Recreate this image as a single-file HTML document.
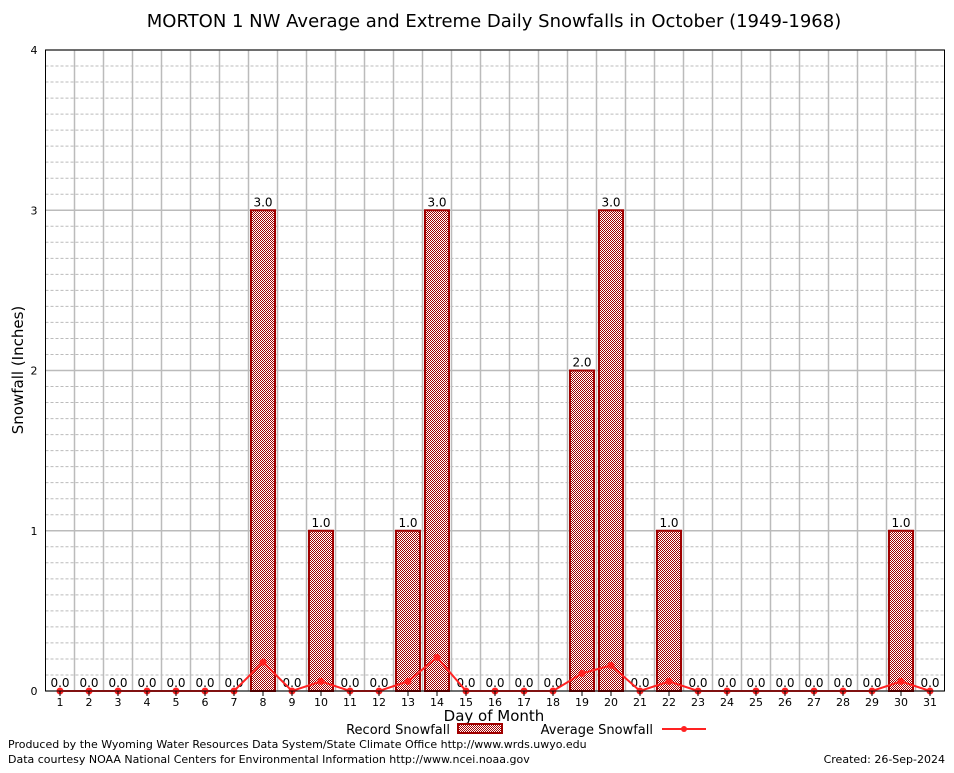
<!DOCTYPE html>
<html><head><meta charset="utf-8"><style>
body{margin:0;background:#fff}
svg text{font-family:"DejaVu Sans","Liberation Sans",sans-serif}
</style></head><body>
<svg id="c" width="954" height="768" xmlns="http://www.w3.org/2000/svg">
<defs><pattern id="chk" width="2" height="2" patternUnits="userSpaceOnUse"><rect width="2" height="2" fill="#fff"/><rect width="1" height="1" fill="#a00000"/><rect x="1" y="1" width="1" height="1" fill="#a00000"/></pattern></defs>
<rect width="954" height="768" fill="#fff"/>
<text x="494" y="27" font-size="18" text-anchor="middle">MORTON 1 NW Average and Extreme Daily Snowfalls in October (1949-1968)</text>
<g id="grid"></g><g id="bars"></g><g id="line"></g><g id="axes"></g>
<text transform="translate(23,370) rotate(-90)" font-size="15" text-anchor="middle">Snowfall (Inches)</text>
<text x="494" y="721" font-size="15" text-anchor="middle">Day of Month</text>
<g>
<text x="450" y="734" font-size="13" text-anchor="end">Record Snowfall</text>
<rect x="458" y="724" width="44" height="9" fill="url(#chk)" stroke="#a00000" stroke-width="2"/>
<text x="653" y="734" font-size="13" text-anchor="end">Average Snowfall</text>
<line x1="662" y1="729" x2="706" y2="729" stroke="#f22" stroke-width="2"/>
<circle cx="684" cy="729" r="3" fill="#f22"/>
</g>
<text x="8" y="748" font-size="11">Produced by the Wyoming Water Resources Data System/State Climate Office http://www.wrds.uwyo.edu</text>
<text x="8" y="763" font-size="11">Data courtesy NOAA National Centers for Environmental Information http://www.ncei.noaa.gov</text>
<text x="945" y="763" font-size="11" text-anchor="end">Created: 26-Sep-2024</text>
</svg>
<script>
const days=[1,2,3,4,5,6,7,8,9,10,11,12,13,14,15,16,17,18,19,20,21,22,23,24,25,26,27,28,29,30,31];
const record=[0,0,0,0,0,0,0,3,0,1,0,0,1,3,0,0,0,0,2,3,0,1,0,0,0,0,0,0,0,1,0];
const average=[0,0,0,0,0,0,0,0.18,0,0.06,0,0,0.06,0.21,0,0,0,0,0.11,0.16,0,0.06,0,0,0,0,0,0,0,0.06,0];
const yTicks=[0,1,2,3,4];
const NS="http://www.w3.org/2000/svg";
const L=45.5,R=944.5,T=50,B=691;
const x=d=>60+(d-1)*29;
const y=v=>B-(v/4)*(B-T);
function mk(p,t,a){const e=document.createElementNS(NS,t);for(const k in a)e.setAttribute(k,a[k]);document.getElementById(p).appendChild(e);return e;}
for(let v=0;v<=4.001;v+=0.1){const r=Math.round(v*10)/10;if(Number.isInteger(r))continue;
const g=mk('grid','line',{x1:L,x2:R,y1:y(r),y2:y(r),stroke:'#bbb','stroke-dasharray':'3,2','stroke-width':1});

}
yTicks.forEach(t=>{const g=mk('grid','line',{x1:L,x2:R,y1:y(t),y2:y(t),stroke:'#bbb','stroke-width':1.5});


const tx=mk('axes','text',{x:L-8,y:y(t)+4,'font-size':11,'text-anchor':'end'});tx.textContent=t;

});
for(let i=1;i<days.length;i++){const xv=(x(days[i-1])+x(days[i]))/2;
const g=mk('grid','line',{x1:xv,x2:xv,y1:T,y2:B,stroke:'#bbb','stroke-width':1.5});

}
days.forEach((d,i)=>{const v=record[i];
if(v>0){const b=mk('bars','rect',{x:x(d)-12,y:y(v),width:24,height:B-y(v),fill:'url(#chk)',stroke:'#a00000','stroke-width':2});

}
const t=mk('bars','text',{x:x(d),y:y(v)-4,'font-size':12,'text-anchor':'middle'});t.textContent=v.toFixed(1);


const tk=mk('axes','text',{x:x(d),y:B+15,'font-size':11,'text-anchor':'middle','font-family':'Liberation Serif,serif'});tk.textContent=d;


const tl=mk('axes','line',{x1:x(d),x2:x(d),y1:B,y2:B+5,stroke:'#000'});

});
const pts=days.map((d,i)=>x(d)+','+y(average[i])).join(' ');
const pl=mk('line','polyline',{points:pts,fill:'none',stroke:'#f22','stroke-width':2});


days.forEach((d,i)=>{const c=mk('line','circle',{cx:x(d),cy:y(average[i]),r:3.5,fill:'#f22'});

});
const fr=mk('axes','rect',{x:L,y:T,width:R-L,height:B-T,fill:'none',stroke:'#000','stroke-width':1});


</script>
</body></html>
